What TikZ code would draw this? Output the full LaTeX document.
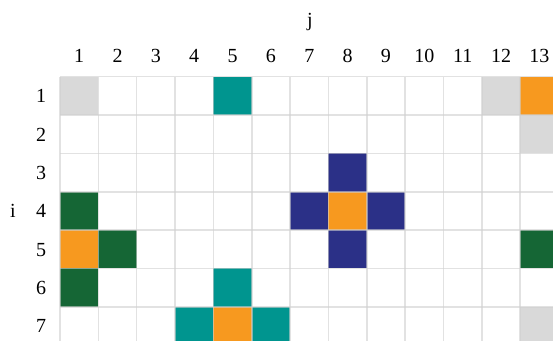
\documentclass[tikz,border=0pt]{standalone}
\usepackage{fontspec}
\setmainfont{Liberation Serif}
\definecolor{cgray}{HTML}{D9D9D9}
\definecolor{cteal}{HTML}{00958F}
\definecolor{corange}{HTML}{F7991F}
\definecolor{cgreen}{HTML}{156635}
\definecolor{cnavy}{HTML}{2B3087}
\definecolor{gridc}{HTML}{CFCFCF}
\begin{document}
\begin{tikzpicture}[x=1pt,y=-1pt,
  lbl/.style={font=\fontsize{20}{24}\selectfont, inner sep=0pt, anchor=base},
  gridline/.style={draw=gridc, draw opacity=0.6, line width=1.5pt}]
\useasboundingbox (0,0) rectangle (553,340);
\clip (0,0) rectangle (553,340);
\def\W{38.35}
\def\X{60}
\def\Y{76.7}
% coloured cells
\foreach \r/\c/\col in {1/1/cgray,1/5/cteal,1/12/cgray,1/13/corange,
  2/13/cgray,3/8/cnavy,4/1/cgreen,4/7/cnavy,4/8/corange,4/9/cnavy,
  5/1/corange,5/2/cgreen,5/8/cnavy,5/13/cgreen,6/1/cgreen,6/5/cteal,
  7/4/cteal,7/5/corange,7/6/cteal,7/13/cgray}
  \fill[\col] ({\X+(\c-1)*\W},{\Y+(\r-1)*\W}) rectangle ++(\W,\W);
% grid
\foreach \k in {0,...,13}
  \draw[gridline] ({\X+\k*\W},\Y) -- ({\X+\k*\W},350);
\foreach \k in {0,...,7}
  \draw[gridline] (\X,{\Y+\k*\W}) -- (570,{\Y+\k*\W});
% labels
\foreach \c in {1,...,13}
  \node[lbl] (col\c) at ({\X+(\c-0.5)*\W},62) {\c};
\foreach \r in {1,...,7}
  \node[lbl] (row\r) at (41,{\Y+(\r-0.5)*\W+7}) {\r};
\node[lbl] (jlab) at (310,26) {j};
\node[lbl] (ilab) at (13,{\Y+3.5*\W+7}) {i};
\end{tikzpicture}
\end{document}
